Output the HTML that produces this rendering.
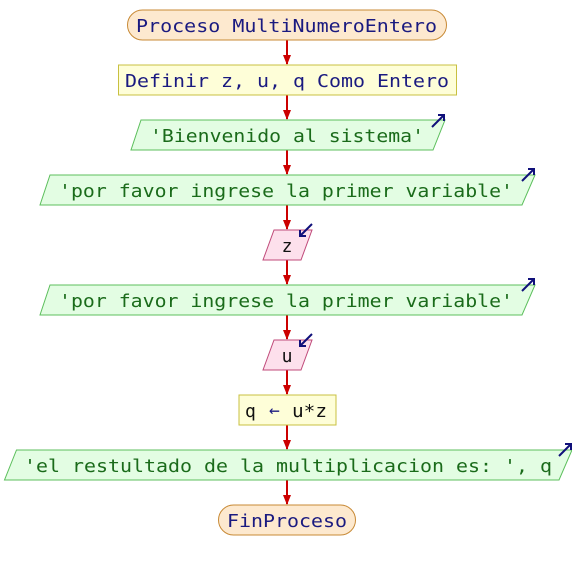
<!DOCTYPE html>
<html><head><meta charset="utf-8"><style>
html,body{margin:0;padding:0;background:#fff;}
svg{display:block;}
text{font-family:"DejaVu Sans Mono","Liberation Mono",monospace;font-size:18px;}
</style></head><body>
<svg width="572" height="570" viewBox="0 0 572 570" xmlns="http://www.w3.org/2000/svg">
<defs>
<marker id="ah" markerWidth="10" markerHeight="8" refX="9" refY="4" orient="auto" markerUnits="userSpaceOnUse">
<path d="M0,0 L10,4 L0,8 z" fill="#cc0000"/>
</marker>
</defs>
<g stroke="#cc0000" stroke-width="2" marker-end="url(#ah)">
<line x1="287" y1="40" x2="287" y2="64"/>
<line x1="287" y1="95" x2="287" y2="119"/>
<line x1="287" y1="150" x2="287" y2="174"/>
<line x1="287" y1="205" x2="287" y2="229"/>
<line x1="287" y1="260" x2="287" y2="284"/>
<line x1="287" y1="315" x2="287" y2="339"/>
<line x1="287" y1="370" x2="287" y2="394"/>
<line x1="287" y1="425" x2="287" y2="449"/>
<line x1="287" y1="480" x2="287" y2="504"/>
</g>
<rect x="127.5" y="10" width="319" height="30" rx="15" fill="#fde9cf" stroke="#c88a36"/>
<text x="136" y="32" fill="#1a1a80" textLength="301" lengthAdjust="spacingAndGlyphs">Proceso MultiNumeroEntero</text>
<rect x="118.5" y="65" width="338" height="30" fill="#fefed8" stroke="#c8c040"/>
<text x="125" y="87" fill="#1a1a80" textLength="324" lengthAdjust="spacingAndGlyphs">Definir z, u, q Como Entero</text>
<polygon points="141,120 445,120 433,150 131,150" fill="#e3fde3" stroke="#5cbf5c"/>
<text x="150" y="142" fill="#1a6b1a" textLength="274" lengthAdjust="spacingAndGlyphs">'Bienvenido al sistema'</text>
<polygon points="50,175 535,175 522,205 40,205" fill="#e3fde3" stroke="#5cbf5c"/>
<text x="59" y="197" fill="#1a6b1a" textLength="454" lengthAdjust="spacingAndGlyphs">'por favor ingrese la primer variable'</text>
<polygon points="274,230 312,230 301,260 263,260" fill="#fde0ec" stroke="#c04a7a"/>
<text x="287" y="252" text-anchor="middle" fill="#111">z</text>
<polygon points="50,285 535,285 522,315 40,315" fill="#e3fde3" stroke="#5cbf5c"/>
<text x="59" y="307" fill="#1a6b1a" textLength="454" lengthAdjust="spacingAndGlyphs">'por favor ingrese la primer variable'</text>
<polygon points="274,340 312,340 301,370 263,370" fill="#fde0ec" stroke="#c04a7a"/>
<text x="287" y="362" text-anchor="middle" fill="#111">u</text>
<rect x="239" y="395" width="97" height="30" fill="#fefed8" stroke="#c8c040"/>
<text x="245" y="417" fill="#111">q</text>
<text x="269" y="416" fill="#1a1a80" font-size="13">←</text>
<text x="292" y="417" fill="#111" textLength="35" lengthAdjust="spacingAndGlyphs">u*z</text>
<polygon points="16.5,450 572,450 559,480 4.5,480" fill="#e3fde3" stroke="#5cbf5c"/>
<text x="24" y="472" fill="#1a6b1a" textLength="528" lengthAdjust="spacingAndGlyphs">'el restultado de la multiplicacion es: ', q</text>
<rect x="218.5" y="505" width="137" height="30" rx="15" fill="#fde9cf" stroke="#c88a36"/>
<text x="227" y="527" fill="#1a1a80" textLength="120" lengthAdjust="spacingAndGlyphs">FinProceso</text>
<g stroke="#10107a" stroke-width="2" fill="none">
<path d="M432,127 L444,115 M438,115 L444,115 L444,121"/>
<path d="M522,181 L534,169 M528,169 L534,169 L534,175"/>
<path d="M522,291 L534,279 M528,279 L534,279 L534,285"/>
<path d="M559,456 L571,444 M565,444 L571,444 L571,450"/>
<path d="M312,224 L300,236 M300,230 L300,236 L306,236"/>
<path d="M312,334 L300,346 M300,340 L300,346 L306,346"/>
</g>
</svg>
</body></html>
